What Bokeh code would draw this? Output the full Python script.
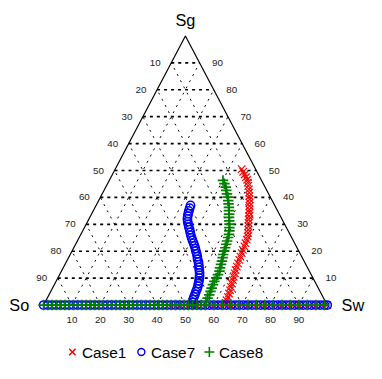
from bokeh.plotting import figure
from bokeh.models import Range1d
from bokeh.core.properties import value
from bokeh.embed import file_html
from bokeh.resources import INLINE

# ---------------- data (ternary: Sw, Sg in %, So = 100 - Sw - Sg) ----------------
levels = [10, 20, 30, 40, 50, 60, 70, 80, 90]
tick_labels = ["10", "20", "30", "40", "50", "60", "70", "80", "90"]

case1_sw = [44.6, 45.6, 46.6, 47.6, 48.5, 49.2, 50.0, 50.9, 51.6, 52.3, 53.0, 53.6, 54.2, 54.8,
            55.4, 55.9, 56.4, 57.0, 57.6, 58.2, 58.7, 59.2, 59.5, 59.7, 59.9, 60.0, 60.2, 60.4,
            60.6, 60.8, 61.0, 61.2, 61.5, 61.8, 62.1, 62.4, 62.6, 63.0, 63.2, 63.5, 63.6, 63.8]
case1_sg = [50.5, 49.5, 48.5, 47.5, 46.5, 45.5, 44.3, 43.0, 41.8, 40.5, 39.3, 38.0, 36.8, 35.5,
            34.3, 33.0, 31.8, 30.5, 29.3, 28.0, 26.8, 25.5, 24.3, 23.0, 21.8, 20.5, 19.3, 18.0,
            16.8, 15.5, 14.3, 13.0, 11.8, 10.5, 9.3, 8.0, 6.8, 5.5, 4.3, 3.0, 1.8, 0.8]
case1_bottom_sw = [44, 46, 48, 50, 52, 54, 56, 58, 60, 62, 64, 66, 68, 70, 72, 74, 76, 78, 80,
                   82, 84, 86, 88, 90, 92, 94, 96, 98, 100]

case7_sw = [33.3, 33.5, 33.7, 34.0, 34.3, 34.7, 35.3, 36.0, 36.7, 37.5, 38.2, 38.9, 39.7, 40.5,
            41.4, 42.2, 43.0, 43.7, 44.5, 45.2, 45.8, 46.6, 47.2, 47.8, 48.4, 49.0, 49.5, 49.9,
            50.3, 50.6, 50.9, 51.1, 51.2, 51.4, 51.5, 51.7, 52.0]
case7_sg = [37.0, 36.0, 35.0, 34.0, 33.0, 32.0, 31.0, 30.0, 29.0, 28.0, 27.0, 26.0, 25.0, 24.0,
            23.0, 22.0, 21.0, 20.0, 19.0, 18.0, 17.0, 16.0, 15.0, 14.0, 13.0, 12.0, 11.0, 10.0,
            9.0, 8.0, 7.0, 6.0, 5.0, 4.0, 3.0, 2.0, 1.0]
case7_bottom_sw = [0, 1.5, 3, 4.5, 6, 7.5, 9, 10.5, 12, 13.5, 15, 16.5, 18, 19.5, 21, 22.5, 24,
                   25.5, 27, 28.5, 30, 31.5, 33, 34.5, 36, 37.5, 39, 40.5, 42, 43.5, 45, 46.5,
                   48, 49.5, 51, 52.5, 54, 55.5, 57, 58.5, 60, 61.5, 63, 64.5, 66, 67.5, 69,
                   70.5, 72, 73.5, 75, 76.5, 78, 79.5, 81, 82.5, 84, 85.5, 87, 88.5, 90, 91.5,
                   93, 94.5, 96, 97.5, 99, 100]

case8_sw = [40.1, 41.2, 42.3, 43.1, 44.0, 44.9, 45.7, 46.4, 47.2, 47.8, 48.5, 49.1, 49.8, 50.5,
            51.1, 51.7, 52.2, 52.5, 52.8, 53.1, 53.4, 53.7, 53.9, 54.3, 54.7, 55.0, 55.3, 55.7,
            55.8, 55.8, 55.8, 55.9, 56.1, 56.3, 56.5, 56.5, 56.6]
case8_sg = [46.3, 45.1, 43.8, 42.6, 41.3, 40.1, 38.8, 37.6, 36.3, 35.1, 33.8, 32.6, 31.3, 30.1,
            28.8, 27.6, 26.3, 25.1, 23.8, 22.6, 21.3, 20.1, 18.8, 17.6, 16.3, 15.1, 13.8, 12.6,
            11.3, 10.1, 8.8, 7.6, 6.3, 5.1, 3.8, 2.6, 1.3]
case8_bottom_sw = [0, 1.5, 3, 4.5, 6, 7.5, 9, 10.5, 12, 13.5, 15, 16.5, 18, 19.5, 21, 22.5, 24,
                   25.5, 27, 28.5, 30, 31.5, 33, 34.5, 36, 37.5, 39, 40.5, 42, 43.5, 45, 46.5,
                   48, 49.5, 51, 52.5, 54, 55.5, 57, 60, 63, 66, 69, 72, 75, 78, 81, 84, 87,
                   90, 93, 96, 99]

series_names = ["Case1", "Case7", "Case8"]

FONT = value("Liberation Sans")
S = 0.958  # overall scale so the whole chart fits in the 366x363 canvas


def tern_x(sw, sg):
    return [a + b / 2.0 for a, b in zip(sw, sg)]


# ---------------- figure ----------------
p = figure(width=366, height=363,
           x_range=Range1d(-15.20, 113.85), y_range=Range1d(-21.71, 113.17),
           output_backend="svg", toolbar_location=None,
           x_axis_type=None, y_axis_type=None, min_border=0)
p.outline_line_color = None
p.background_fill_color = "white"
p.border_fill_color = "white"

# grid: constant Sg (horizontal)
h_xs = [[v / 2.0, 100 - v / 2.0] for v in levels]
h_ys = [[v, v] for v in levels]
p.multi_line(h_xs, h_ys, line_color="black", line_width=1.7, line_dash="3 4")

# grid: constant Sw and constant So (diagonals)
d_xs = [[v, 50 + v / 2.0] for v in levels] + [[100 - v, (100 - v) / 2.0] for v in levels]
d_ys = [[0, 100 - v] for v in levels] + [[0, 100 - v] for v in levels]
p.multi_line(d_xs, d_ys, line_color="black", line_width=1, line_dash="2 5")

# triangle
p.patch([0, 100, 50], [0, 0, 100], fill_color=None, line_color="black", line_width=1.2)

# data
red, blue, green = "#ff0000", "#0000ff", "#008000"
p.scatter(tern_x(case1_sw, case1_sg) + case1_bottom_sw, case1_sg + [0] * len(case1_bottom_sw),
          marker="x", size=10.5, line_color=red, line_width=1.2)
p.scatter(tern_x(case7_sw, case7_sg) + case7_bottom_sw, case7_sg + [0] * len(case7_bottom_sw),
          marker="circle", size=8.3, fill_color=None, line_color=blue, line_width=1.5)
p.scatter(tern_x(case8_sw, case8_sg) + case8_bottom_sw, case8_sg + [0] * len(case8_bottom_sw),
          marker="cross", size=10.5, line_color=green, line_width=1.7)

# tick labels
tick_fs = "9.8px"
# left side: So values
p.text(x=[(100 - v) / 2.0 for v in levels], y=[100 - v for v in levels], text=tick_labels,
       text_font=FONT, text_font_size=tick_fs, text_color="#222222",
       text_align="right", text_baseline="middle", x_offset=-11 * S)
# right side: Sg values
p.text(x=[100 - v / 2.0 for v in levels], y=levels, text=tick_labels,
       text_font=FONT, text_font_size=tick_fs, text_color="#222222",
       text_align="left", text_baseline="middle", x_offset=13 * S)
# bottom: Sw values
p.text(x=levels, y=[0] * len(levels), text=tick_labels,
       text_font=FONT, text_font_size=tick_fs, text_color="#222222",
       text_align="center", text_baseline="middle", y_offset=16 * S)

# vertex labels
vfs = "16.3px"
p.text(x=[50], y=[100], text=["Sg"], text_font=FONT, text_font_size=vfs,
       text_align="center", text_baseline="middle", y_offset=-17 * S)
p.text(x=[0], y=[0], text=["So"], text_font=FONT, text_font_size=vfs,
       text_align="right", text_baseline="middle", x_offset=-15 * S)
p.text(x=[100], y=[0], text=["Sw"], text_font=FONT, text_font_size=vfs,
       text_align="left", text_baseline="middle", x_offset=15 * S)

# legend (manual, below the triangle)
leg_y = -17.44
leg_x = [10.14, 34.46, 58.45]
p.scatter([leg_x[0]], [leg_y], marker="x", size=9, line_color=red, line_width=1.5)
p.scatter([leg_x[1]], [leg_y], marker="circle", size=7, fill_color=None, line_color=blue, line_width=1.4)
p.scatter([leg_x[2]], [leg_y], marker="cross", size=10, line_color=green, line_width=1.6)
p.text(x=leg_x, y=[leg_y] * 3, text=series_names, text_font=FONT, text_font_size="15.3px",
       text_align="left", text_baseline="middle", x_offset=10 * S)

open("out.html", "w").write(file_html(p, INLINE))
